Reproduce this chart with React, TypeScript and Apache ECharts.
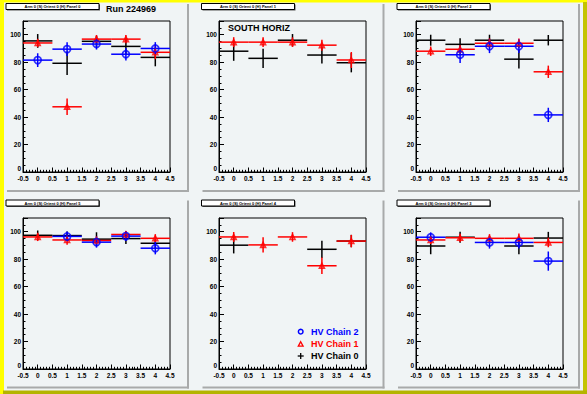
import React, { useEffect, useRef } from "react";
import * as echarts from "echarts";

// ---- data ----
const binCenters = [0, 1, 2, 3, 4];
const xTickLabels = ["-0.5", "0", "0.5", "1", "1.5", "2", "2.5", "3", "3.5", "4", "4.5"];
const yTickLabels = ["0", "20", "40", "60", "80", "100"];
const panelTitles = [
  "Arm 0 (S) Orient 0 (H) Panel 0",
  "Arm 0 (S) Orient 0 (H) Panel 1",
  "Arm 0 (S) Orient 0 (H) Panel 2",
  "Arm 0 (S) Orient 0 (H) Panel 5",
  "Arm 0 (S) Orient 0 (H) Panel 4",
  "Arm 0 (S) Orient 0 (H) Panel 3",
];
const seriesNames = ["HV Chain 2", "HV Chain 1", "HV Chain 0"];

// HV Chain 0 (black)
const chain0Val: (number | null)[][] = [
  [95.5, 79.2, 95.2, 91.5, 83.5],
  [88, 82.8, 96, 85.2, 79.6],
  [96, 93, 96, 82.2, 96],
  [97.4, 97.2, 94.6, 95, 91.6],
  [90.2, null, null, 87.2, 93.2],
  [89.6, 96, null, 89.6, 95.4],
];
const chain0Err: number[][] = [
  [5, 8.5, 4, 6, 6.5],
  [7, 7, 4.5, 6.2, 7],
  [4, 4.5, 4, 6.8, 3.8],
  [3.5, 3, 5, 4, 4],
  [6, 0, 0, 6.3, 4.5],
  [6, 4, 0, 6, 4.5],
];
// HV Chain 1 (red)
const chain1Val: (number | null)[][] = [
  [94, 47.5, 96.8, 96.8, 87.2],
  [94.6, 94.6, 94.6, 92.4, 81.6],
  [88, 89.4, 93.8, 93.8, 73],
  [96.2, 94, 93.6, 98, 95.2],
  [96.2, 90.4, 96.2, 75.2, 93.2],
  [94, 95.6, 95.2, 95.2, 92.2],
];
const chain1Err: number[][] = [
  [3, 6, 3, 3, 5],
  [3.6, 3.5, 3.5, 4, 5.8],
  [3.4, 3, 3.5, 3.5, 4.5],
  [3, 3.5, 3, 2.5, 3],
  [3.6, 5.5, 3.5, 6, 4.5],
  [3, 3, 3, 3.5, 3.5],
];
// HV Chain 2 (blue)
const chain2Val: (number | null)[][] = [
  [81.5, 89.5, 93.2, 85.8, 90],
  [null, null, null, null, null],
  [null, 85.4, 91.6, 91.6, 41.6],
  [null, 96.6, 92.4, 96.8, 88],
  [null, null, null, null, null],
  [96, null, 92.2, 92.2, 78.6],
];
const chain2Err: number[][] = [
  [5, 5, 4, 4.5, 4.6],
  [0, 0, 0, 0, 0],
  [0, 6, 5, 5, 5.2],
  [0, 3.5, 4, 3.5, 4.5],
  [0, 0, 0, 0, 0],
  [3.5, 0, 4.5, 4.5, 7],
];

// ---- layout / style ----
const W = 587;
const H = 394;
const BG = "#f0f4f5";
const FONT = "Liberation Sans, Arial, Helvetica, sans-serif";
const gridLeft = [23, 219, 416];
const gridTop = [21, 218];
const gridW = 147;
const gridH = 151;
const padOffX = [0, 195.5, 391];
const padOffY = [0, 196.5];
const colors = { c0: "#000000", c1: "#ff0000", c2: "#0000ff" };
const LW = 1.5;

function points(vals: (number | null)[], errs: number[]) {
  const out: number[][] = [];
  vals.forEach((v, i) => {
    if (v !== null && v !== undefined) out.push([binCenters[i], v, errs[i]]);
  });
  return out;
}

function errSeries(idx: number, data: number[][], color: string) {
  return {
    type: "custom",
    xAxisIndex: idx,
    yAxisIndex: idx,
    data,
    renderItem: (params: any, api: any) => {
      const x = api.value(0);
      const y = api.value(1);
      const e = api.value(2);
      const l = api.coord([x - 0.5, y]);
      const r = api.coord([x + 0.5, y]);
      const t = api.coord([x, y + e]);
      const b = api.coord([x, y - e]);
      return {
        type: "group",
        children: [
          { type: "line", shape: { x1: l[0], y1: l[1], x2: r[0], y2: r[1] }, style: { stroke: color, lineWidth: LW } },
          { type: "line", shape: { x1: t[0], y1: t[1], x2: b[0], y2: b[1] }, style: { stroke: color, lineWidth: LW } },
        ],
      };
    },
    silent: true,
  };
}

export default function App() {
  const ref = useRef<HTMLDivElement>(null);
  useEffect(() => {
    if (!ref.current) return;
    document.body.style.margin = "0";
    const chart = echarts.init(ref.current, undefined, { renderer: "svg" });

    const grids: any[] = [];
    const xAxes: any[] = [];
    const yAxes: any[] = [];
    const series: any[] = [];
    const graphics: any[] = [];

    // canvas border
    graphics.push(
      { type: "rect", shape: { x: 0, y: 0, width: W, height: 2.5 }, style: { fill: "#ffff00" } },
      { type: "rect", shape: { x: 0, y: 0, width: 4, height: H }, style: { fill: "#ffff00" } },
      { type: "rect", shape: { x: W - 4, y: 2, width: 4, height: H - 2 }, style: { fill: "#c4c400" } },
      { type: "rect", shape: { x: 3, y: H - 3.5, width: W - 3, height: 3.5 }, style: { fill: "#b4b400" } }
    );

    for (let p = 0; p < 6; p++) {
      const col = p % 3;
      const row = Math.floor(p / 3);
      const ox = padOffX[col];
      const oy = padOffY[row];

      // pad shadows
      graphics.push(
        { type: "rect", shape: { x: ox + 187, y: oy + 4, width: 2, height: 188 }, style: { fill: "#a8aaaa" } },
        { type: "rect", shape: { x: ox + 7, y: oy + 190, width: 182, height: 2 }, style: { fill: "#a8aaaa" } }
      );
      // title box
      const bx = ox + 6;
      const by = oy + 3.5;
      const bw = 93;
      const bh = 6;
      graphics.push(
        { type: "rect", shape: { x: bx + 1, y: by + 1, width: bw, height: bh }, style: { fill: "#555555" } },
        { type: "rect", shape: { x: bx, y: by, width: bw, height: bh }, style: { fill: "#ffffff", stroke: "#000000", lineWidth: 1 } },
        {
          type: "text",
          x: bx + bw / 2,
          y: by + bh / 2 + 0.3,
          style: { text: panelTitles[p], fontSize: 4, fontWeight: "bold", fontFamily: FONT, fill: "#000", align: "center", verticalAlign: "middle" },
        }
      );

      grids.push({
        left: gridLeft[col],
        top: gridTop[row],
        width: gridW,
        height: gridH,
        show: true,
        backgroundColor: BG,
        borderColor: "#000",
        borderWidth: 1,
      });
      xAxes.push({
        type: "value",
        gridIndex: p,
        min: -0.5,
        max: 4.5,
        interval: 0.5,
        axisLine: { show: true, onZero: false, lineStyle: { color: "#000", width: 1 } },
        axisTick: { show: true, inside: true, length: 4.5, lineStyle: { color: "#000" } },
        minorTick: { show: true, splitNumber: 5, length: 2.2, lineStyle: { color: "#000" } },
        splitLine: { show: false },
        axisLabel: {
          margin: 2.5,
          fontSize: 6.5,
          fontWeight: "bold",
          fontFamily: FONT,
          color: "#000",
          formatter: (v: number) => {
            const i = Math.round((v + 0.5) / 0.5);
            return xTickLabels[i] ?? "";
          },
        },
      });
      yAxes.push({
        type: "value",
        gridIndex: p,
        min: 0,
        max: 110,
        interval: 20,
        axisLine: { show: true, onZero: false, lineStyle: { color: "#000", width: 1 } },
        axisTick: { show: true, inside: true, length: 5, lineStyle: { color: "#000" } },
        minorTick: { show: true, splitNumber: 4, length: 2.5, lineStyle: { color: "#000" } },
        splitLine: { show: false },
        axisLabel: {
          margin: 2,
          fontSize: 6.5,
          fontWeight: "bold",
          fontFamily: FONT,
          color: "#000",
          showMaxLabel: false,
          rich: {
            zero: { fontSize: 6.5, fontWeight: "bold", fontFamily: FONT, color: "#000", padding: [0, 0, 7, 0] },
          },
          formatter: (v: number) => {
            const i = Math.round(v / 20);
            if (Math.abs(v - i * 20) > 1e-6) return "";
            if (i === 0) return "{zero|" + yTickLabels[0] + "}";
            return yTickLabels[i] ?? "";
          },
        },
      });

      const d0 = points(chain0Val[p], chain0Err[p]);
      const d1 = points(chain1Val[p], chain1Err[p]);
      const d2 = points(chain2Val[p], chain2Err[p]);

      series.push(errSeries(p, d0, colors.c0));
      series.push(errSeries(p, d1, colors.c1));
      series.push({
        type: "scatter",
        name: seriesNames[1],
        xAxisIndex: p,
        yAxisIndex: p,
        data: d1.map((d) => [d[0], d[1]]),
        symbol: "triangle",
        symbolSize: 5,
        itemStyle: { color: "rgba(0,0,0,0)", borderColor: colors.c1, borderWidth: 1.6 },
        silent: true,
      });
      series.push(errSeries(p, d2, colors.c2));
      series.push({
        type: "scatter",
        name: seriesNames[0],
        xAxisIndex: p,
        yAxisIndex: p,
        data: d2.map((d) => [d[0], d[1]]),
        symbol: "circle",
        symbolSize: 7,
        itemStyle: { color: "rgba(0,0,0,0)", borderColor: colors.c2, borderWidth: 1.7 },
        silent: true,
      });
    }

    // titles
    graphics.push(
      {
        type: "text",
        x: 106,
        y: 9,
        style: { text: "Run 224969", fontSize: 9, fontWeight: "bold", fontFamily: FONT, fill: "#000", verticalAlign: "middle" },
      },
      {
        type: "text",
        x: 228,
        y: 27.5,
        style: { text: "SOUTH HORIZ", fontSize: 9, fontWeight: "bold", fontFamily: FONT, fill: "#000", verticalAlign: "middle" },
        z: 10,
      }
    );

    // legend in panel 4 (bottom middle)
    const lx = 300.7;
    const ly = [331.7, 344.3, 356];
    const legendColors = [colors.c2, colors.c1, colors.c0];
    graphics.push(
      { type: "circle", shape: { cx: lx, cy: ly[0], r: 2.3 }, style: { fill: "none", stroke: colors.c2, lineWidth: 1.5 }, z: 10 },
      {
        type: "polygon",
        shape: { points: [[lx, ly[1] - 2.6], [lx + 2.4, ly[1] + 1.8], [lx - 2.4, ly[1] + 1.8]] },
        style: { fill: "none", stroke: colors.c1, lineWidth: 1.3 },
        z: 10,
      },
      { type: "line", shape: { x1: lx - 3, y1: ly[2], x2: lx + 3, y2: ly[2] }, style: { stroke: "#000", lineWidth: 1.3 }, z: 10 },
      { type: "line", shape: { x1: lx, y1: ly[2] - 3, x2: lx, y2: ly[2] + 3 }, style: { stroke: "#000", lineWidth: 1.3 }, z: 10 }
    );
    seriesNames.forEach((n, i) => {
      graphics.push({
        type: "text",
        x: 311,
        y: ly[i],
        style: { text: n, fontSize: 9, fontWeight: "bold", fontFamily: FONT, fill: legendColors[i], verticalAlign: "middle" },
        z: 10,
      });
    });

    chart.setOption({
      animation: false,
      backgroundColor: BG,
      grid: grids,
      xAxis: xAxes,
      yAxis: yAxes,
      series,
      graphic: graphics,
    });
    return () => chart.dispose();
  }, []);
  return <div ref={ref} style={{ position: "absolute", left: 0, top: 0, width: W, height: H }} />;
}
